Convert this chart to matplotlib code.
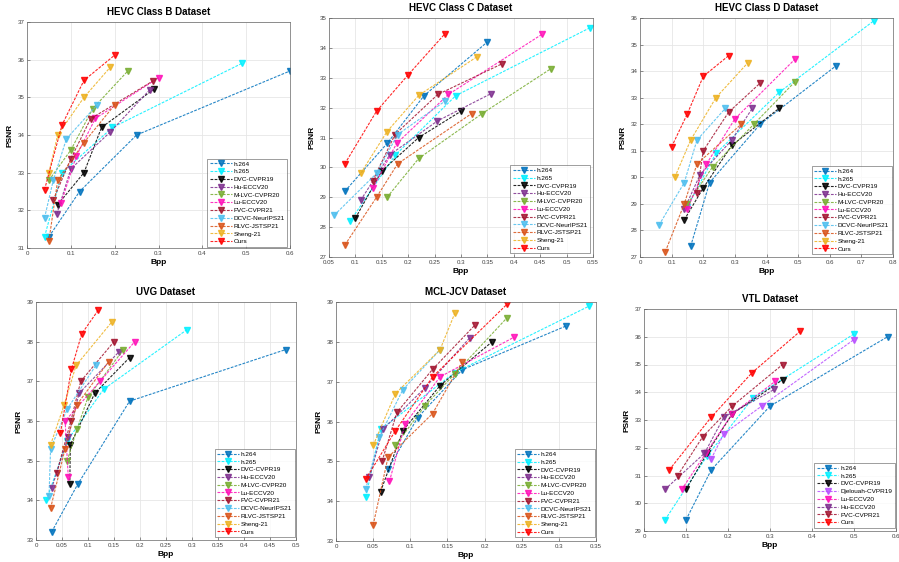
import numpy as np
import matplotlib
matplotlib.use("Agg")
import matplotlib.pyplot as plt

plt.rcParams["font.family"] = ["Liberation Sans", "DejaVu Sans"]

# method names and colours (MATLAB-ish palette)
methods = ["h.264", "h.265", "DVC-CVPR19", "Hu-ECCV20", "M-LVC-CVPR20", "Lu-ECCV20",
           "FVC-CVPR21", "DCVC-NeurIPS21", "RLVC-JSTSP21", "Sheng-21", "Ours"]
colors = ["#0072BD", "#00F0FF", "#000000", "#7E2F8E", "#77AC30", "#FF10B8",
          "#A2142F", "#4DBEEE", "#D95319", "#EDB120", "#FF0000"]

vtl_methods = ["h.264", "h.265", "DVC-CVPR19", "Djelouah-CVPR19", "Lu-ECCV20",
               "Hu-ECCV20", "FVC-CVPR21", "Ours"]
vtl_colors = ["#0072BD", "#00F0FF", "#000000", "#B84DFF", "#FF10B8",
              "#7E2F8E", "#A2142F", "#FF0000"]

# HEVC Class B
classB_bpp = [[0.05, 0.12, 0.25, 0.60], [0.04, 0.08, 0.195, 0.49], [0.07, 0.13, 0.17, 0.29],
              [0.068, 0.10, 0.19, 0.28], [0.05, 0.10, 0.15, 0.23], [0.078, 0.112, 0.156, 0.30],
              [0.06, 0.10, 0.145, 0.288], [0.04, 0.06, 0.09, 0.16], [0.05, 0.07, 0.13, 0.20],
              [0.05, 0.07, 0.13, 0.19], [0.04, 0.08, 0.13, 0.20]]
classB_psnr = [[31.3, 32.5, 34.0, 35.7], [31.3, 33.0, 34.2, 35.9], [32.15, 33.0, 34.2, 35.22],
               [31.9, 33.1, 34.08, 35.2], [32.8, 33.6, 34.7, 35.7], [32.2, 33.43, 34.44, 35.52],
               [32.28, 33.37, 34.43, 35.44], [31.8, 32.8, 33.9, 34.8], [31.19, 32.8, 33.8, 34.8],
               [33.0, 34.0, 35.0, 35.8], [32.55, 34.27, 35.45, 36.12]]

# HEVC Class C
classC_bpp = [[0.08, 0.16, 0.23, 0.35], [0.09, 0.175, 0.29, 0.545], [0.10, 0.15, 0.22, 0.30],
              [0.11, 0.165, 0.255, 0.357], [0.16, 0.22, 0.34, 0.47], [0.133, 0.178, 0.276, 0.453],
              [0.133, 0.175, 0.256, 0.378], [0.06, 0.14, 0.18, 0.27], [0.08, 0.14, 0.18, 0.32],
              [0.11, 0.16, 0.22, 0.33], [0.08, 0.14, 0.20, 0.27]]
classC_psnr = [[29.2, 30.8, 32.4, 34.2], [28.2, 30.4, 32.4, 34.68], [28.3, 29.88, 31.0, 31.88],
               [28.9, 30.42, 31.55, 32.47], [29.0, 30.3, 31.8, 33.3], [29.3, 30.8, 32.44, 34.45],
               [29.56, 31.1, 32.44, 33.47], [28.4, 29.8, 31.1, 32.22], [27.4, 29.0, 30.12, 31.8],
               [29.8, 31.2, 32.41, 33.7], [30.12, 31.88, 33.1, 34.48]]

# HEVC Class D
classD_bpp = [[0.16, 0.22, 0.38, 0.62], [0.15, 0.24, 0.44, 0.74], [0.14, 0.20, 0.29, 0.44],
              [0.14, 0.19, 0.29, 0.355], [0.15, 0.23, 0.36, 0.49], [0.15, 0.21, 0.30, 0.49],
              [0.18, 0.20, 0.28, 0.38], [0.06, 0.14, 0.18, 0.27], [0.08, 0.14, 0.18, 0.32],
              [0.11, 0.16, 0.24, 0.34], [0.10, 0.15, 0.20, 0.28]]
classD_psnr = [[27.4, 29.8, 32.0, 34.2], [28.9, 30.9, 33.2, 35.9], [28.4, 29.6, 31.2, 32.6],
               [28.8, 30.1, 31.4, 32.6], [29.0, 30.4, 32.0, 33.6], [28.8, 30.5, 32.2, 34.45],
               [29.4, 31.0, 32.45, 33.55], [28.2, 29.8, 31.4, 32.6], [27.2, 29.0, 30.5, 32.0],
               [30.0, 31.4, 33.0, 34.3], [31.15, 32.4, 33.8, 34.58]]

# UVG
uvg_bpp = [[0.03, 0.08, 0.18, 0.48], [0.02, 0.06, 0.13, 0.29], [0.065, 0.066, 0.113, 0.18],
           [0.03, 0.062, 0.083, 0.16], [0.06, 0.079, 0.10, 0.168], [0.062, 0.056, 0.123, 0.19],
           [0.04, 0.067, 0.086, 0.15], [0.025, 0.028, 0.06, 0.115], [0.028, 0.056, 0.078, 0.14],
           [0.028, 0.054, 0.077, 0.146], [0.047, 0.068, 0.088, 0.12]]
uvg_psnr = [[33.2, 34.4, 36.5, 37.8], [34.0, 35.5, 36.8, 38.3], [34.4, 35.4, 36.7, 37.6],
            [34.3, 35.6, 36.7, 37.75], [35.0, 35.8, 36.6, 37.8], [34.6, 36.0, 37.0, 38.0],
            [34.7, 36.0, 37.0, 38.0], [34.1, 35.3, 36.3, 37.4], [33.8, 35.3, 36.4, 37.5],
            [35.4, 36.4, 37.4, 38.5], [35.7, 37.3, 38.2, 38.8]]

# MCL-JCV
mcl_bpp = [[0.07, 0.11, 0.17, 0.31], [0.04, 0.06, 0.16, 0.34], [0.06, 0.09, 0.14, 0.21],
           [0.045, 0.063, 0.12, 0.18], [0.08, 0.12, 0.16, 0.23], [0.072, 0.093, 0.14, 0.24],
           [0.062, 0.082, 0.13, 0.187], [0.04, 0.058, 0.09, 0.14], [0.05, 0.07, 0.13, 0.17],
           [0.05, 0.08, 0.14, 0.16], [0.04, 0.08, 0.13, 0.23]]
mcl_psnr = [[34.8, 36.1, 37.3, 38.4], [34.1, 35.8, 37.23, 38.89], [34.24, 35.77, 36.9, 38.0],
            [34.6, 35.8, 36.85, 38.1], [35.4, 36.4, 37.2, 38.6], [34.5, 35.94, 37.12, 38.12],
            [35.0, 36.23, 37.31, 38.42], [34.3, 35.6, 36.8, 37.8], [33.4, 35.1, 36.2, 37.5],
            [35.4, 36.7, 37.8, 38.72], [34.55, 35.77, 37.12, 38.94]]

# VTL
vtl_bpp = [[0.10, 0.16, 0.30, 0.58], [0.05, 0.15, 0.26, 0.50], [0.10, 0.15, 0.21, 0.33],
           [0.16, 0.19, 0.28, 0.50], [0.09, 0.147, 0.21, 0.313], [0.05, 0.144, 0.19, 0.31],
           [0.08, 0.14, 0.21, 0.33], [0.06, 0.16, 0.257, 0.372]]
vtl_psnr = [[29.4, 31.2, 33.5, 36.0], [29.4, 31.7, 33.8, 36.1], [30.5, 31.8, 33.22, 34.45],
            [31.6, 32.5, 33.5, 35.9], [30.5, 31.8, 33.22, 34.4], [30.5, 31.8, 33.1, 34.1],
            [31.0, 32.4, 33.5, 35.0], [31.2, 33.1, 34.7, 36.2]]

W, H = 899, 562


def px_rect(l, r, t, b):
    return [l / W, 1 - b / H, (r - l) / W, (b - t) / H]


def draw_panel(fig, rect, title, names, cols, bpp, psnr, xlim, ylim, xticks, yticks, leg_anchor):
    ax = fig.add_axes(px_rect(*rect))
    for name, c, xs, ys in zip(names, cols, bpp, psnr):
        ax.plot(xs, ys, linestyle="--", dashes=(2.5, 1.2), color=c, lw=0.8, alpha=0.85,
                marker="v", ms=4.6, mfc=c, mec=c, label=name)
    ax.set_xlim(*xlim)
    ax.set_ylim(*ylim)
    ax.set_xticks(xticks)
    ax.set_xticklabels([f"{v:g}" for v in xticks])
    ax.set_yticks(yticks)
    ax.grid(True, color="#e6e6e6", lw=0.6)
    ax.set_axisbelow(True)
    ax.tick_params(direction="in", labelsize=4.4, length=2, width=0.4, colors="#404040", pad=2)
    for s in ax.spines.values():
        s.set_color("#666666")
        s.set_linewidth(0.5)
    ax.set_title(title, fontsize=7, fontweight="bold", pad=5)
    ax.set_xlabel("Bpp", fontsize=6, fontweight="bold", labelpad=2)
    ax.set_ylabel("PSNR", fontsize=6, fontweight="bold", labelpad=3)
    leg = ax.legend(loc="lower right", bbox_to_anchor=leg_anchor, fontsize=4.6, frameon=True,
                    fancybox=False, edgecolor="#555555", labelspacing=0.36, handlelength=3.4,
                    handletextpad=0.3, borderpad=0.4, borderaxespad=0)
    leg.get_frame().set_linewidth(0.5)
    return ax


fig = plt.figure(figsize=(W / 100, H / 100), dpi=100)

draw_panel(fig, (27, 290, 22, 248), "HEVC Class B Dataset", methods, colors, classB_bpp, classB_psnr,
           (0, 0.6), (31, 37), np.arange(0, 0.61, 0.1), np.arange(31, 38, 1), (0.99, 0.005))
draw_panel(fig, (329, 593, 18, 257), "HEVC Class C Dataset", methods, colors, classC_bpp, classC_psnr,
           (0.05, 0.55), (27, 35), np.round(np.arange(0.05, 0.551, 0.05), 2), np.arange(27, 36, 1),
           (0.99, 0.015))
draw_panel(fig, (640, 893, 18, 257), "HEVC Class D Dataset", methods, colors, classD_bpp, classD_psnr,
           (0, 0.8), (27, 36), np.round(np.arange(0, 0.81, 0.1), 1), np.arange(27, 37, 1),
           (0.995, 0.012))
draw_panel(fig, (36, 296, 302, 540), "UVG Dataset", methods, colors, uvg_bpp, uvg_psnr,
           (0, 0.5), (33, 39), np.round(np.arange(0, 0.51, 0.05), 2), np.arange(33, 40, 1),
           (0.995, 0.012))
draw_panel(fig, (336, 596, 302, 541), "MCL-JCV Dataset", methods, colors, mcl_bpp, mcl_psnr,
           (0, 0.35), (33, 39), np.round(np.arange(0, 0.351, 0.05), 2), np.arange(33, 40, 1),
           (0.995, 0.015))
draw_panel(fig, (644, 896, 309, 531), "VTL Dataset", vtl_methods, vtl_colors, vtl_bpp, vtl_psnr,
           (0, 0.6), (29, 37), np.round(np.arange(0, 0.61, 0.1), 1), np.arange(29, 38, 1),
           (0.995, 0.014))

fig.savefig("out.png", dpi=100, facecolor="white")
